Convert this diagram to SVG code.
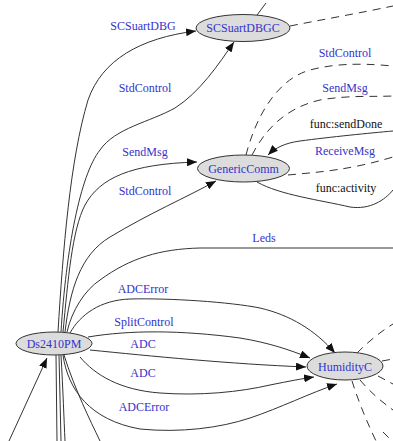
<svg xmlns="http://www.w3.org/2000/svg" width="393" height="441" viewBox="0 0 393 441">
<style>
.e{fill:none;stroke:#333;stroke-width:1}
.d{fill:none;stroke:#333;stroke-width:1;stroke-dasharray:8,6}
text{font-family:'Liberation Serif','Times New Roman',Times,serif;font-size:12px;text-anchor:middle}
.l{fill:#3333cc}
.f{fill:#111}
.n{fill:#dcdcdc;stroke:#333;stroke-width:1}
.nt{fill:#3333cc}
</style>
<defs>
<marker id="a" markerUnits="userSpaceOnUse" markerWidth="11" markerHeight="8" refX="10" refY="4" orient="auto">
<path d="M0,0 L10,4 L0,8 z" fill="#111"/>
</marker>
</defs>
<rect width="393" height="441" fill="#fff"/>
<g id="connectors">
<path class="e" marker-end="url(#a)" d="M 58 332 C 63 250, 70 160, 88 100 C 102 60, 140 38, 196 31"/>
<path class="e" marker-end="url(#a)" d="M 61 332 C 66 250, 80 175, 100 150 C 115 128, 150 122, 175 108 C 200 92, 218 65, 234 42"/>
<path class="e" marker-end="url(#a)" d="M 63 332 C 68 280, 72 230, 85 205 C 100 178, 130 164, 197 162"/>
<path class="e" marker-end="url(#a)" d="M 65 332 C 70 290, 80 255, 110 237 C 150 213, 185 198, 216 181"/>
<path class="e" d="M 67 332 C 72 310, 85 290, 100 280 C 130 258, 160 249, 200 248 L 393 248"/>
<path class="e" marker-end="url(#a)" d="M 70 333 C 80 315, 100 300, 130 299 C 170 298, 230 302, 260 308 C 290 315, 315 330, 335 353"/>
<path class="e" marker-end="url(#a)" d="M 88 337 C 130 330, 180 330, 240 338 C 270 343, 290 350, 310 358"/>
<path class="e" marker-end="url(#a)" d="M 90 350 C 150 356, 230 364, 306 367"/>
<path class="e" marker-end="url(#a)" d="M 80 357 C 95 375, 120 390, 160 393 C 200 396, 240 392, 270 385 C 290 381, 300 379, 314 377"/>
<path class="e" marker-end="url(#a)" d="M 63 355 C 68 390, 90 420, 140 429 C 180 433, 220 428, 250 418 C 280 408, 310 393, 337 384"/>
<path class="e" d="M 56 355 L 57 441"/>
<path class="e" d="M 59 355 L 61 441"/>
<path class="e" d="M 61 355 C 63 390, 64 420, 65 441"/>
<path class="e" d="M 64 355 C 75 390, 90 420, 100 441"/>
<path class="e" marker-end="url(#a)" d="M 9 441 L 47 358"/>
<path class="d" d="M 246 155 C 255 120, 275 80, 310 70 C 340 62, 370 64, 393 66"/>
<path class="d" d="M 252 155 C 265 130, 285 108, 320 100 C 350 95, 370 97, 393 96"/>
<path class="e" marker-end="url(#a)" d="M 393 131 C 370 133, 330 137, 300 141 C 285 143, 275 148, 268 155"/>
<path class="d" d="M 288 175 C 320 172, 350 170, 393 157"/>
<path class="e" d="M 257 182 C 280 195, 320 200, 350 207 C 370 210, 385 200, 393 190"/>
<path class="d" d="M 290 26 C 320 20, 360 13, 393 6"/>
<path class="e" d="M 257 15 L 266 3"/>
<path class="d" d="M 357 353 C 368 342, 380 332, 393 324"/>
<path class="d" d="M 382 361 L 393 359"/>
<path class="d" d="M 378 376 L 393 384"/>
<path class="d" d="M 352 381 C 358 400, 366 420, 376 441"/>
<path class="d" d="M 360 380 C 370 392, 382 402, 393 410"/>
<path class="d" d="M 383 432 L 392 441"/>
<text class="l" x="143" y="30">SCSuartDBG</text>
<text class="l" x="145" y="92">StdControl</text>
<text class="l" x="145" y="156">SendMsg</text>
<text class="l" x="145" y="195">StdControl</text>
<text class="l" x="264" y="242">Leds</text>
<text class="l" x="143" y="293">ADCError</text>
<text class="l" x="144" y="326">SplitControl</text>
<text class="l" x="143" y="348">ADC</text>
<text class="l" x="143" y="377">ADC</text>
<text class="l" x="144" y="411">ADCError</text>
<text class="l" x="345" y="57">StdControl</text>
<text class="l" x="345" y="92">SendMsg</text>
<text class="f" x="346" y="128">func:sendDone</text>
<text class="l" x="345" y="155">ReceiveMsg</text>
<text class="f" x="346" y="192">func:activity</text>
</g>
<g id="SCSuartDBGC">
<ellipse class="n" cx="243" cy="28" rx="47" ry="13.5"/>
<text class="nt" x="243" y="32">SCSuartDBGC</text>
</g>
<g id="GenericComm">
<ellipse class="n" cx="243.5" cy="168.5" rx="46" ry="13.5"/>
<text class="nt" x="243.5" y="173">GenericComm</text>
</g>
<g id="Ds2410PM">
<ellipse class="n" cx="54" cy="343.5" rx="38" ry="11.5"/>
<text class="nt" x="54" y="348">Ds2410PM</text>
</g>
<g id="HumidityC">
<ellipse class="n" cx="345" cy="366" rx="38" ry="14"/>
<text class="nt" x="345" y="370.5">HumidityC</text>
</g>
</svg>
